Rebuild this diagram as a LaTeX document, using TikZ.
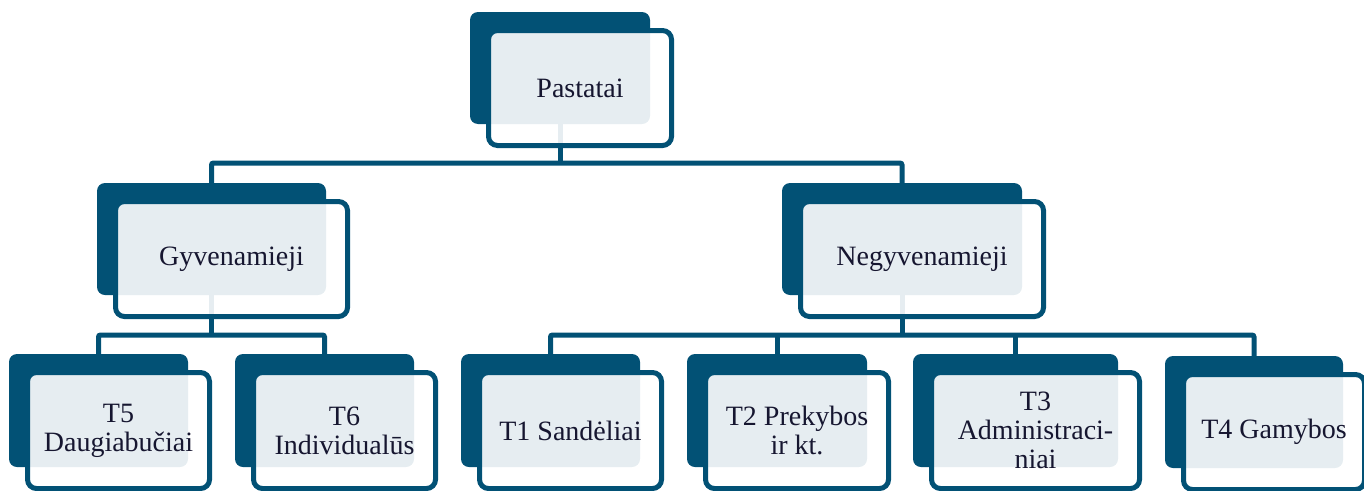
\documentclass[tikz,border=0pt]{standalone}
\usepackage{fontspec}
\setmainfont{Liberation Serif}
\usetikzlibrary{backgrounds}
\definecolor{dkblue}{RGB}{2,81,117}
\definecolor{txt}{RGB}{22,22,48}
\begin{document}
\begin{tikzpicture}[x=1pt,y=-1pt,
  darkbox/.style={fill=dkblue, rounded corners=8pt, inner sep=0pt, minimum height=112pt},
  frontbox/.style={draw=dkblue, line width=5pt, fill=white, fill opacity=0.9, text opacity=1,
    rounded corners=9pt, inner sep=0pt, minimum height=115pt, align=center, text=txt,
    font=\fontsize{28}{29}\selectfont},
  lowdark/.style={darkbox, minimum height=113pt},
  lowfront/.style={frontbox, minimum height=116pt},
  conn/.style={draw=dkblue, line width=5pt, rounded corners=2pt}]
\useasboundingbox (0,0) rectangle (1364,490);

% level 0
\node[darkbox, minimum width=180pt] (pa) at (560,68) {};
\node[frontbox, minimum width=183pt] (paf) at (580,88) {Pastatai};

% level 1
\node[darkbox, minimum width=229pt] (gy) at (211.5,239) {};
\node[frontbox, minimum width=232pt] (gyf) at (231.5,259) {Gyvenamieji};
\node[darkbox, minimum width=240pt] (ne) at (902,239) {};
\node[frontbox, minimum width=243pt] (nef) at (922,259) {Negyvenamieji};

% level 2
\node[lowdark, minimum width=179pt] (t5) at (98.5,410.5) {};
\node[lowfront, minimum width=182pt] (t5f) at (118.5,430.5) {T5\\Daugiabučiai};
\node[lowdark, minimum width=179pt] (t6) at (324.5,410.5) {};
\node[lowfront, minimum width=182pt] (t6f) at (344.5,430.5) {T6\\Individualūs};
\node[lowdark, minimum width=179pt] (t1) at (550.5,410.5) {};
\node[lowfront, minimum width=182pt] (t1f) at (570.5,430.5) {T1 Sandėliai};
\node[lowdark, minimum width=180pt] (t2) at (777,410.5) {};
\node[lowfront, minimum width=183pt] (t2f) at (797,430.5) {T2 Prekybos\\ir kt.};
\node[lowdark, minimum width=205pt] (t3) at (1015.5,410.5) {};
\node[lowfront, minimum width=208pt] (t3f) at (1035.5,430.5) {T3\\Administraci-\\niai};
\node[darkbox, minimum width=178pt] (t4) at (1254,412) {};
\node[frontbox, minimum width=181pt] (t4f) at (1274,432) {T4 Gamybos};

\begin{scope}[on background layer]
  \coordinate (j1) at (pa.south |- 0,163);
  \draw[conn] (pa.south) -- (j1);
  \draw[conn] (gy.north) |- (j1) -| (ne.north);

  \coordinate (j2) at (gy.south |- 0,335);
  \draw[conn] (gy.south) -- (j2);
  \draw[conn] (t5.north) |- (j2) -| (t6.north);

  \coordinate (j3) at (ne.south |- 0,335);
  \draw[conn] (ne.south) -- (j3);
  \draw[conn] (t1.north) |- (j3) -| (t4.north);
  \draw[conn] (t2.north) -- (t2.north |- j3);
  \draw[conn] (t3.north) -- (t3.north |- j3);
\end{scope}
\end{tikzpicture}
\end{document}
